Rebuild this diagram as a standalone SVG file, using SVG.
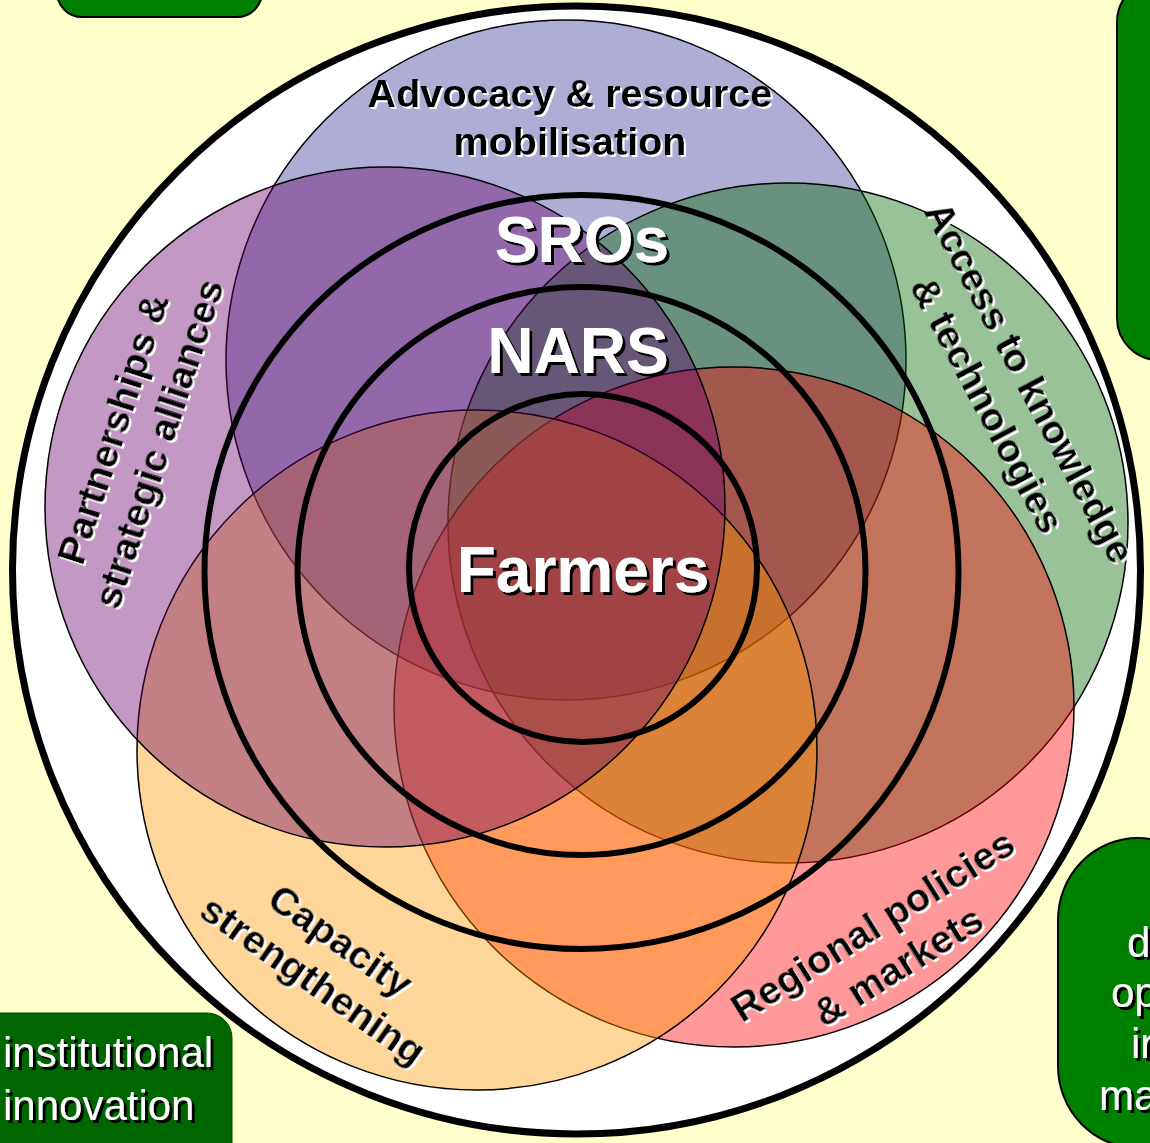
<svg xmlns="http://www.w3.org/2000/svg" width="1150" height="1143" viewBox="0 0 1150 1143">
  <defs>
    <style>
      .box { fill: #008000; stroke: #000; stroke-width: 2; }
      .boxdark { fill: #006600; stroke: #004400; stroke-width: 1; }
      .set { stroke: #000; stroke-width: 1.5; fill-opacity: 0.4; }
      .ring { fill: none; stroke: #000; stroke-width: 6; }
      .lbl { font-family: "Liberation Sans", Arial, sans-serif; font-weight: bold; font-size: 39.6px; fill: #000; text-anchor: middle; }
      .core { font-family: "Liberation Sans", Arial, sans-serif; font-weight: bold; font-size: 64px; fill: #fff; text-anchor: middle; }
      .boxtxt { font-family: "Liberation Sans", Arial, sans-serif; font-size: 42px; fill: #fff; }
    </style>
    <filter id="wsh" x="-10%" y="-10%" width="120%" height="120%">
      <feDropShadow dx="2" dy="2" stdDeviation="0" flood-color="#fff" flood-opacity="1"/>
    </filter>
    <filter id="bsh" x="-10%" y="-10%" width="120%" height="120%">
      <feDropShadow dx="3" dy="3" stdDeviation="0" flood-color="#000" flood-opacity="1"/>
    </filter>
  </defs>

  <rect x="0" y="0" width="1150" height="1143" fill="#FFFFCC"/>

  <g id="box-top-left"><rect class="box" x="57" y="-40" width="205" height="57" rx="25"/></g>
  <g id="box-top-right"><rect class="box" x="1117" y="-20" width="90" height="380" rx="42"/></g>
  <g id="box-bottom-right">
    <rect class="box" x="1058" y="838" width="160" height="310" rx="82"/>
    <g filter="url(#bsh)">
      <text class="boxtxt" x="1127" y="957">d</text>
      <text class="boxtxt" x="1111" y="1007">op</text>
      <text class="boxtxt" x="1131" y="1058">ir</text>
      <text class="boxtxt" x="1099" y="1110">ma</text>
    </g>
  </g>
  <g id="box-bottom-left">
    <rect class="boxdark" x="-40" y="1013" width="272" height="160" rx="25"/>
    <g filter="url(#bsh)">
      <text class="boxtxt" x="3" y="1067">institutional</text>
      <text class="boxtxt" x="3" y="1120">innovation</text>
    </g>
  </g>

  <g id="outer-circle">
    <circle cx="576.5" cy="570" r="564" fill="#fff" stroke="#000" stroke-width="7"/>
  </g>

  <g id="advocacy"><circle class="set" cx="566" cy="360" r="340" fill="#333399"/></g>
  <g id="access"><circle class="set" cx="788" cy="523" r="340" fill="#006600"/></g>
  <g id="regional"><circle class="set" cx="734" cy="707" r="340" fill="#FF0000"/></g>
  <g id="capacity"><circle class="set" cx="477" cy="750" r="340" fill="#FF9900"/></g>
  <g id="partnerships"><circle class="set" cx="385" cy="507" r="340" fill="#660066"/></g>

  <g id="rings">
    <g id="sros"><circle class="ring" cx="581.5" cy="572" r="377"/></g>
    <g id="nars"><circle class="ring" cx="581.5" cy="571" r="284"/></g>
    <g id="farmers"><circle class="ring" cx="583" cy="568" r="174"/></g>
  </g>

  <g id="labels-core" filter="url(#bsh)">
    <text class="core" x="582" y="262">SROs</text>
    <text class="core" x="578" y="373">NARS</text>
    <text class="core" x="583" y="592">Farmers</text>
  </g>

  <g id="labels-sets" filter="url(#wsh)">
    <text class="lbl" x="570" y="107">Advocacy &amp; resource</text>
    <text class="lbl" x="570" y="155">mobilisation</text>
    <g transform="translate(126,433) rotate(-72)">
      <text class="lbl" x="0" y="0">Partnerships &amp;</text>
      <text class="lbl" x="0" y="48">strategic alliances</text>
    </g>
    <g transform="translate(1018,389) rotate(62)">
      <text class="lbl" x="0" y="0">Access to knowledge</text>
      <text class="lbl" x="0" y="48">&amp; technologies</text>
    </g>
    <g transform="translate(333,952) rotate(35)">
      <text class="lbl" x="0" y="0">Capacity</text>
      <text class="lbl" x="0" y="48">strengthening</text>
    </g>
    <g transform="translate(880,937) rotate(-32)">
      <text class="lbl" x="0" y="0">Regional policies</text>
      <text class="lbl" x="0" y="48">&amp; markets</text>
    </g>
  </g>
</svg>
